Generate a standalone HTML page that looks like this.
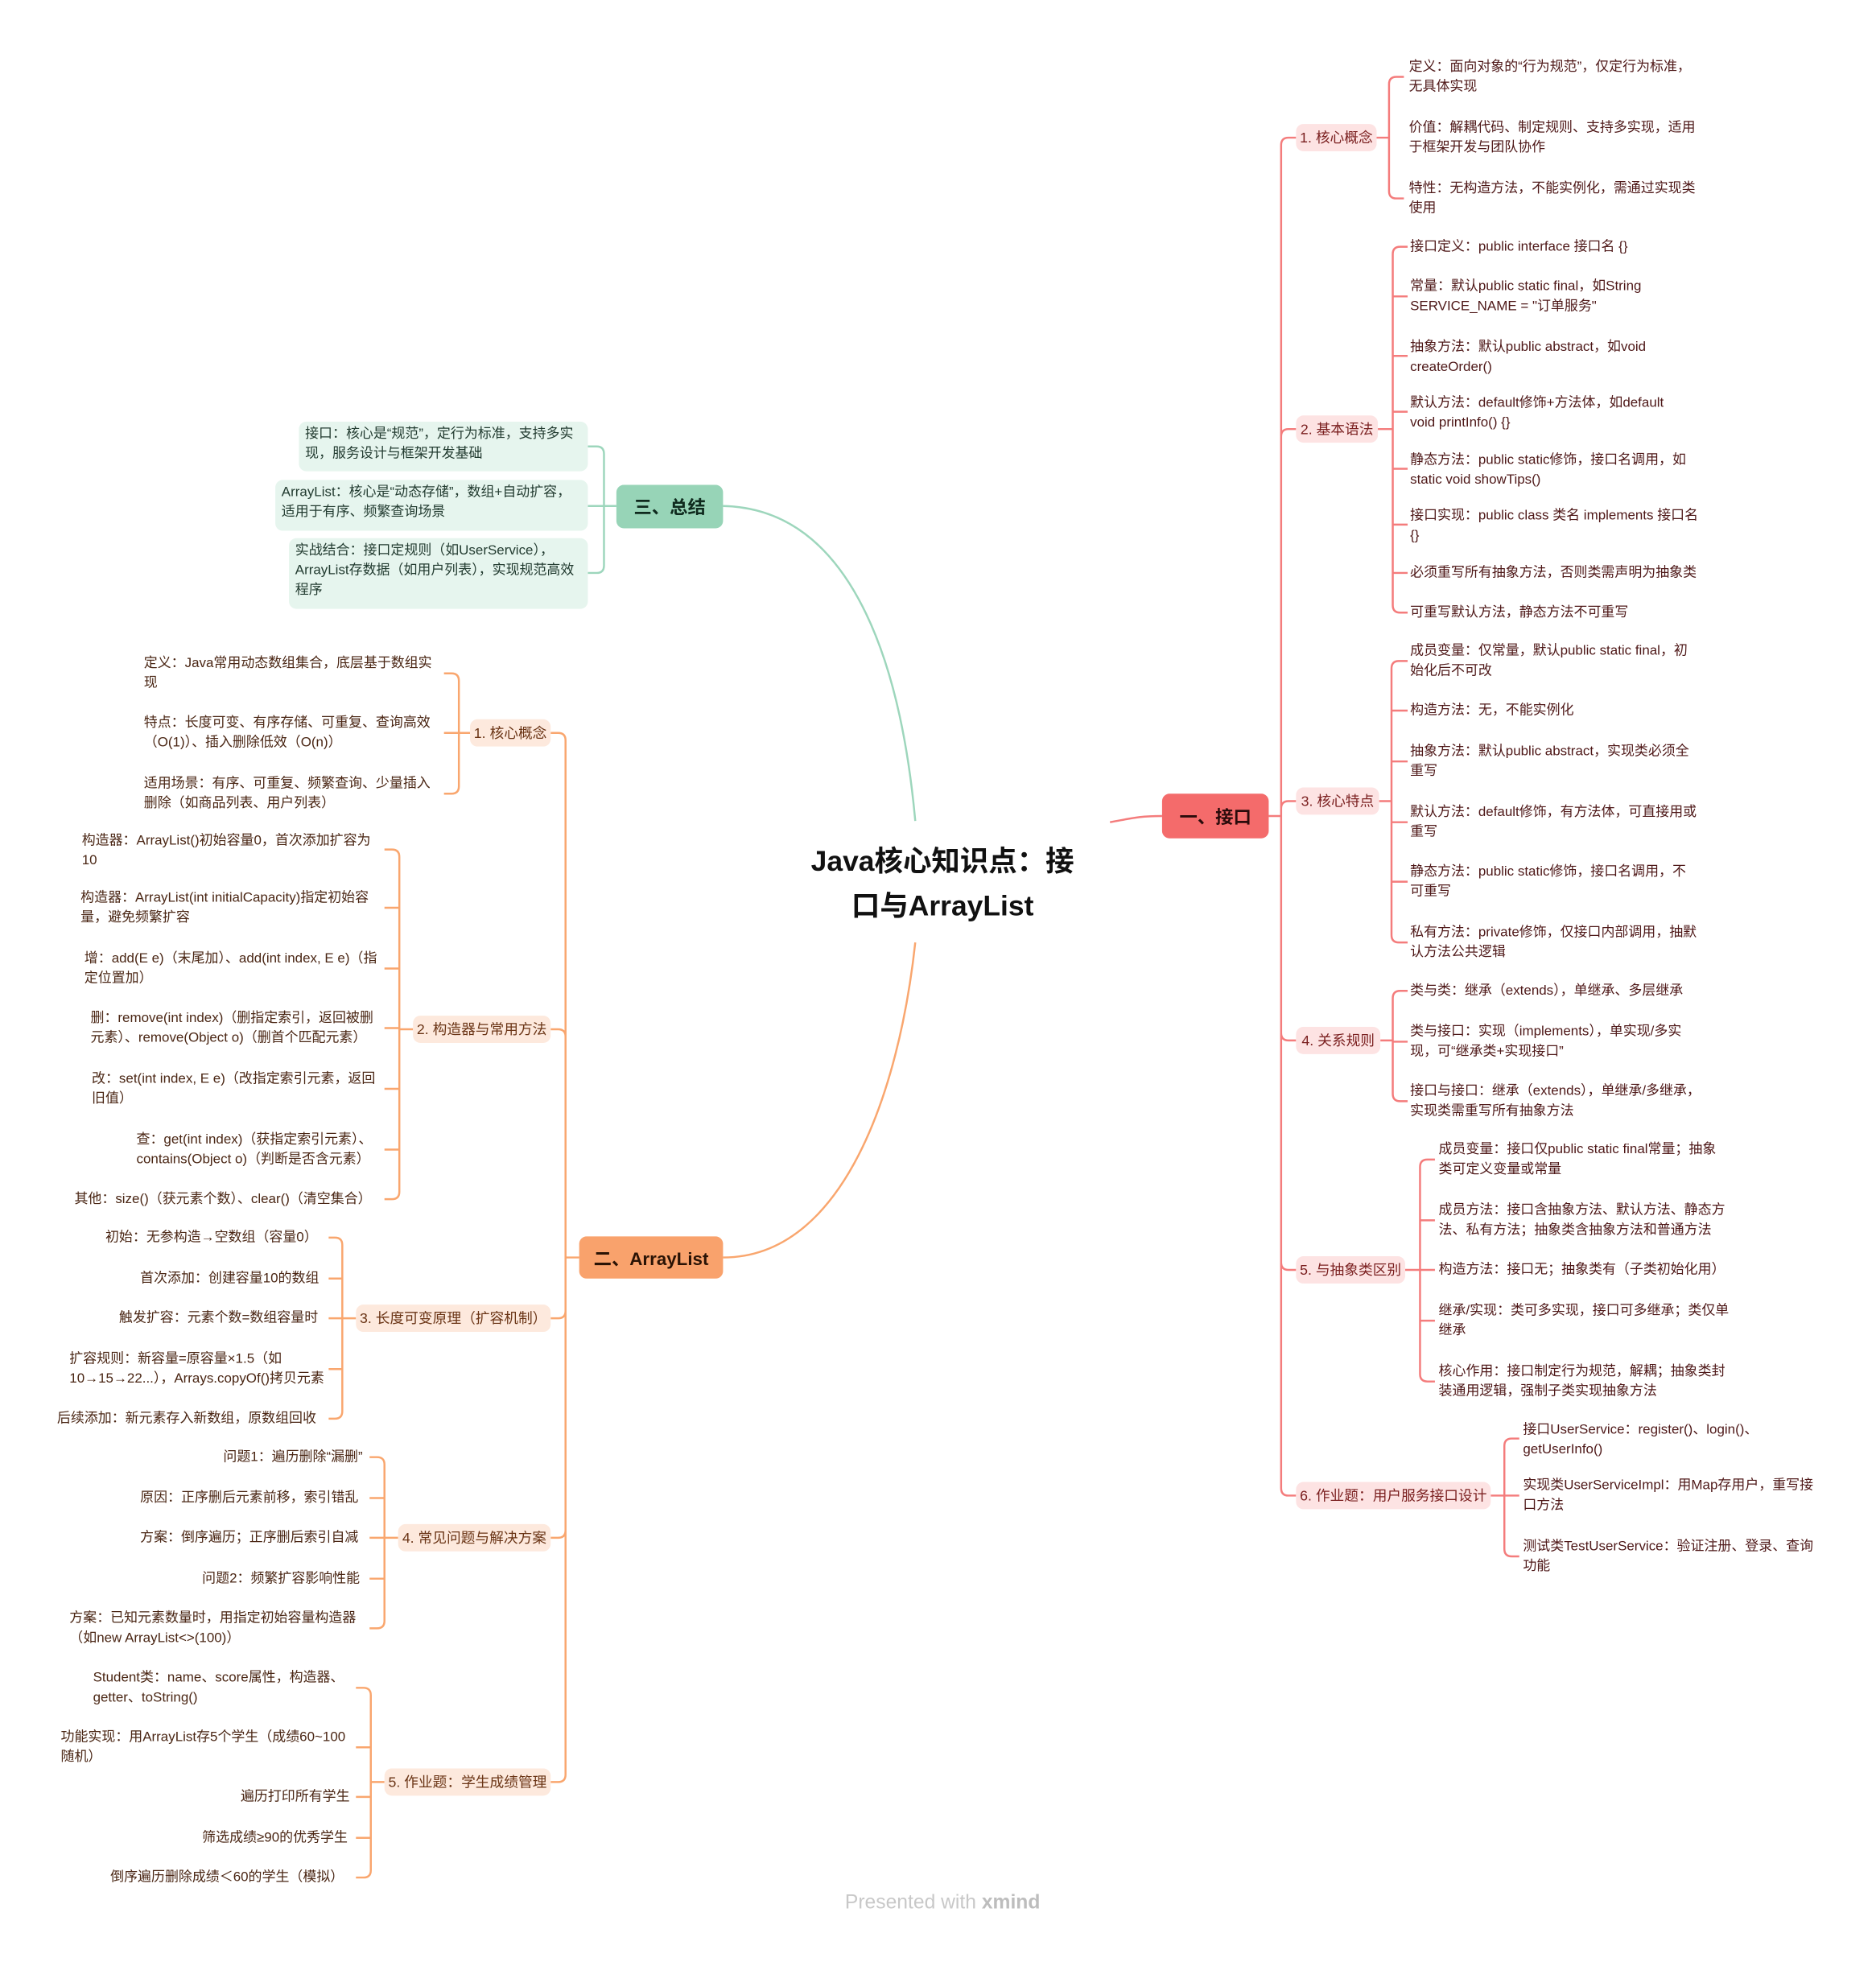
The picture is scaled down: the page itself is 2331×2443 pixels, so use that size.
<!DOCTYPE html>
<html><head><meta charset="utf-8"><style>
html,body{margin:0;padding:0;background:#fff;}
body{width:2331px;height:2415px;overflow:hidden;position:relative;}
#w{position:absolute;left:0;top:0;width:1530px;height:1585px;transform:scale(1.541);transform-origin:0 0;font-family:"Liberation Sans","Noto Sans CJK SC",sans-serif;}
.t{position:absolute;font-size:11px;line-height:16px;white-space:nowrap;}
.r{color:#4e1818;}
.o{color:#4a2614;}
.box{position:absolute;border-radius:6px;font-size:11.5px;display:flex;align-items:center;justify-content:center;white-space:nowrap;}
.pb{background:#fde3e3;color:#7a1f1f;}
.ob{background:#fde9dd;color:#6a3415;}
.gl{position:absolute;background:#e6f5ee;border-radius:6px;font-size:11px;line-height:16px;color:#223b30;padding:2px 5px;box-sizing:border-box;white-space:nowrap;}
svg{position:absolute;left:0;top:0;}
</style></head><body><div id="w">
<svg width="1530" height="1585" fill="none" stroke-width="1.6">
<g stroke="#f47c7c">
<path d="M895 663 C912 660 918 658 937 658"/>
<path d="M1023 658 H1033 M1033 658 V117 Q1033 111 1039 111 H1045 M1033 658 V352 Q1033 346 1039 346 H1045 M1033 658 V652 Q1033 646 1039 646 H1045 M1033 658 V833 Q1033 839 1039 839 H1045 M1033 658 V1018 Q1033 1024 1039 1024 H1045 M1033 658 V1200 Q1033 1206 1039 1206 H1045"/>
<path d="M1110 111 H1120 M1120 111 V68 Q1120 62 1126 62 H1132 M1120 111 V154 Q1120 160 1126 160 H1132"/>
<path d="M1111 346 H1123 M1123 346 V205 Q1123 199 1129 199 H1135 M1123 239 Q1123 239 1135 239 M1123 287 H1135 M1123 332 H1135 M1123 378 H1135 M1123 423 H1135 M1123 462 H1135 M1123 346 V488 Q1123 494 1129 494 H1135"/>
<path d="M1112 646 H1122 M1122 646 V539 Q1122 533 1128 533 H1135 M1122 573 H1135 M1122 614 H1135 M1122 663 H1135 M1122 711 H1135 M1122 646 V754 Q1122 760 1128 760 H1135"/>
<path d="M1113 839 H1123 M1123 839 V805 Q1123 799 1129 799 H1135 M1123 840 H1135 M1123 839 V882 Q1123 888 1129 888 H1135"/>
<path d="M1133 1024 H1145 M1145 1024 V941 Q1145 935 1151 935 H1157 M1145 984 H1157 M1145 1024 H1157 M1145 1065 H1157 M1145 1024 V1108 Q1145 1114 1151 1114 H1157"/>
<path d="M1202 1206 H1213 M1213 1206 V1166 Q1213 1160 1219 1160 H1225 M1213 1206 H1225 M1213 1206 V1249 Q1213 1255 1219 1255 H1225"/>
</g>
<g stroke="#f9a66e">
<path d="M738 760 C725 880 680 1014 583 1014"/>
<path d="M467 1014 H456 M456 1014 V597 Q456 591 450 591 H444 M456 1014 V836 Q456 830 450 830 H444 M456 1014 V1057 Q456 1063 450 1063 H444 M456 1014 V1234 Q456 1240 450 1240 H444 M456 1014 V1431 Q456 1437 450 1437 H444"/>
<path d="M379 591 H370 M370 591 V549 Q370 543 364 543 H358 M370 591 H358 M370 591 V634 Q370 640 364 640 H358"/>
<path d="M333 830 H322 M322 830 V691 Q322 685 316 685 H310 M322 732 H310 M322 781 H310 M322 829 H310 M322 878 H310 M322 927 H310 M322 830 V961 Q322 967 316 967 H310"/>
<path d="M287 1063 H276 M276 1063 V1004 Q276 998 270 998 H265 M276 1031 H265 M276 1063 H265 M276 1104 H265 M276 1063 V1138 Q276 1144 270 1144 H265"/>
<path d="M321 1240 H310 M310 1240 V1181 Q310 1175 304 1175 H298 M310 1208 H298 M310 1240 H298 M310 1273 H298 M310 1240 V1307 Q310 1313 304 1313 H298"/>
<path d="M310 1437 H299 M299 1437 V1367 Q299 1361 293 1361 H287 M299 1409 H287 M299 1449 H287 M299 1482 H287 M299 1437 V1508 Q299 1514 293 1514 H287"/>
</g>
<g stroke="#9dd6bc">
<path d="M583 408 C680 410 725 520 738 662"/>
<path d="M497 408 H487 M487 408 V366 Q487 360 481 360 H474 M487 408 H474 M487 408 V456 Q487 462 481 462 H474"/>
</g>
</svg>

<div style="position:absolute;left:620px;top:676px;width:280px;text-align:center;font-size:23px;line-height:36px;font-weight:bold;color:#111;">Java核心知识点：接<br>口与ArrayList</div>

<div class="box" style="left:937px;top:640px;width:86px;height:36px;background:#f46b6b;color:#2a0b0b;font-size:14.5px;font-weight:bold;">一、接口</div>
<div class="box" style="left:467px;top:997px;width:116px;height:34px;background:#f9a26c;color:#2a1305;font-size:14.5px;font-weight:bold;">二、ArrayList</div>
<div class="box" style="left:497px;top:391px;width:86px;height:35px;background:#97d4b7;color:#0f2a1e;font-size:14.5px;font-weight:bold;">三、总结</div>

<div class="box pb" style="left:1045px;top:100px;width:65px;height:22px;">1. 核心概念</div>
<div class="box pb" style="left:1045px;top:335px;width:66px;height:22px;">2. 基本语法</div>
<div class="box pb" style="left:1045px;top:635px;width:67px;height:22px;">3. 核心特点</div>
<div class="box pb" style="left:1045px;top:828px;width:68px;height:22px;">4. 关系规则</div>
<div class="box pb" style="left:1045px;top:1013px;width:88px;height:22px;">5. 与抽象类区别</div>
<div class="box pb" style="left:1045px;top:1195px;width:157px;height:22px;">6. 作业题：用户服务接口设计</div>

<div class="t r" style="left:1136px;top:46px;">定义：面向对象的“行为规范”，仅定行为标准，<br>无具体实现</div>
<div class="t r" style="left:1136px;top:95px;">价值：解耦代码、制定规则、支持多实现，适用<br>于框架开发与团队协作</div>
<div class="t r" style="left:1136px;top:144px;">特性：无构造方法，不能实例化，需通过实现类<br>使用</div>

<div class="t r" style="left:1137px;top:191px;">接口定义：public interface 接口名 {}</div>
<div class="t r" style="left:1137px;top:223px;">常量：默认public static final，如String<br>SERVICE_NAME = "订单服务"</div>
<div class="t r" style="left:1137px;top:272px;">抽象方法：默认public abstract，如void<br>createOrder()</div>
<div class="t r" style="left:1137px;top:317px;">默认方法：default修饰+方法体，如default<br>void printInfo() {}</div>
<div class="t r" style="left:1137px;top:363px;">静态方法：public static修饰，接口名调用，如<br>static void showTips()</div>
<div class="t r" style="left:1137px;top:408px;">接口实现：public class 类名 implements 接口名<br>{}</div>
<div class="t r" style="left:1137px;top:454px;">必须重写所有抽象方法，否则类需声明为抽象类</div>
<div class="t r" style="left:1137px;top:486px;">可重写默认方法，静态方法不可重写</div>

<div class="t r" style="left:1137px;top:517px;">成员变量：仅常量，默认public static final，初<br>始化后不可改</div>
<div class="t r" style="left:1137px;top:565px;">构造方法：无，不能实例化</div>
<div class="t r" style="left:1137px;top:598px;">抽象方法：默认public abstract，实现类必须全<br>重写</div>
<div class="t r" style="left:1137px;top:647px;">默认方法：default修饰，有方法体，可直接用或<br>重写</div>
<div class="t r" style="left:1137px;top:695px;">静态方法：public static修饰，接口名调用，不<br>可重写</div>
<div class="t r" style="left:1137px;top:744px;">私有方法：private修饰，仅接口内部调用，抽默<br>认方法公共逻辑</div>

<div class="t r" style="left:1137px;top:791px;">类与类：继承（extends），单继承、多层继承</div>
<div class="t r" style="left:1137px;top:824px;">类与接口：实现（implements），单实现/多实<br>现，可“继承类+实现接口”</div>
<div class="t r" style="left:1137px;top:872px;">接口与接口：继承（extends），单继承/多继承，<br>实现类需重写所有抽象方法</div>

<div class="t r" style="left:1160px;top:919px;">成员变量：接口仅public static final常量；抽象<br>类可定义变量或常量</div>
<div class="t r" style="left:1160px;top:968px;">成员方法：接口含抽象方法、默认方法、静态方<br>法、私有方法；抽象类含抽象方法和普通方法</div>
<div class="t r" style="left:1160px;top:1016px;">构造方法：接口无；抽象类有（子类初始化用）</div>
<div class="t r" style="left:1160px;top:1049px;">继承/实现：类可多实现，接口可多继承；类仅单<br>继承</div>
<div class="t r" style="left:1160px;top:1098px;">核心作用：接口制定行为规范，解耦；抽象类封<br>装通用逻辑，强制子类实现抽象方法</div>

<div class="t r" style="left:1228px;top:1145px;">接口UserService：register()、login()、<br>getUserInfo()</div>
<div class="t r" style="left:1228px;top:1190px;">实现类UserServiceImpl：用Map存用户，重写接<br>口方法</div>
<div class="t r" style="left:1228px;top:1239px;">测试类TestUserService：验证注册、登录、查询<br>功能</div>

<div class="box ob" style="left:379px;top:580px;width:65px;height:22px;">1. 核心概念</div>
<div class="box ob" style="left:333px;top:819px;width:111px;height:22px;">2. 构造器与常用方法</div>
<div class="box ob" style="left:287px;top:1052px;width:157px;height:22px;">3. 长度可变原理（扩容机制）</div>
<div class="box ob" style="left:321px;top:1229px;width:123px;height:22px;">4. 常见问题与解决方案</div>
<div class="box ob" style="left:310px;top:1426px;width:134px;height:22px;">5. 作业题：学生成绩管理</div>

<div class="t o" style="left:116px;top:527px;">定义：Java常用动态数组集合，底层基于数组实<br>现</div>
<div class="t o" style="left:116px;top:575px;">特点：长度可变、有序存储、可重复、查询高效<br>（O(1)）、插入删除低效（O(n)）</div>
<div class="t o" style="left:116px;top:624px;">适用场景：有序、可重复、频繁查询、少量插入<br>删除（如商品列表、用户列表）</div>

<div class="t o" style="left:66px;top:670px;">构造器：ArrayList()初始容量0，首次添加扩容为<br>10</div>
<div class="t o" style="left:65px;top:716px;">构造器：ArrayList(int initialCapacity)指定初始容<br>量，避免频繁扩容</div>
<div class="t o" style="left:68px;top:765px;">增：add(E e)（末尾加）、add(int index, E e)（指<br>定位置加）</div>
<div class="t o" style="left:73px;top:813px;">删：remove(int index)（删指定索引，返回被删<br>元素）、remove(Object o)（删首个匹配元素）</div>
<div class="t o" style="left:74px;top:862px;">改：set(int index, E e)（改指定索引元素，返回<br>旧值）</div>
<div class="t o" style="left:110px;top:911px;">查：get(int index)（获指定索引元素）、<br>contains(Object o)（判断是否含元素）</div>
<div class="t o" style="left:60px;top:959px;">其他：size()（获元素个数）、clear()（清空集合）</div>

<div class="t o" style="left:85px;top:990px;">初始：无参构造→空数组（容量0）</div>
<div class="t o" style="left:113px;top:1023px;">首次添加：创建容量10的数组</div>
<div class="t o" style="left:96px;top:1055px;">触发扩容：元素个数=数组容量时</div>
<div class="t o" style="left:56px;top:1088px;">扩容规则：新容量=原容量×1.5（如<br>10→15→22...），Arrays.copyOf()拷贝元素</div>
<div class="t o" style="left:46px;top:1136px;">后续添加：新元素存入新数组，原数组回收</div>

<div class="t o" style="left:180px;top:1167px;">问题1：遍历删除“漏删”</div>
<div class="t o" style="left:113px;top:1200px;">原因：正序删后元素前移，索引错乱</div>
<div class="t o" style="left:113px;top:1232px;">方案：倒序遍历；正序删后索引自减</div>
<div class="t o" style="left:163px;top:1265px;">问题2：频繁扩容影响性能</div>
<div class="t o" style="left:56px;top:1297px;">方案：已知元素数量时，用指定初始容量构造器<br>（如new ArrayList&lt;&gt;(100)）</div>

<div class="t o" style="left:75px;top:1345px;">Student类：name、score属性，构造器、<br>getter、toString()</div>
<div class="t o" style="left:49px;top:1393px;">功能实现：用ArrayList存5个学生（成绩60~100<br>随机）</div>
<div class="t o" style="left:194px;top:1441px;">遍历打印所有学生</div>
<div class="t o" style="left:163px;top:1474px;">筛选成绩≥90的优秀学生</div>
<div class="t o" style="left:89px;top:1506px;">倒序遍历删除成绩＜60的学生（模拟）</div>

<div class="gl" style="left:241px;top:340px;width:233px;height:40px;">接口：核心是“规范”，定行为标准，支持多实<br>现，服务设计与框架开发基础</div>
<div class="gl" style="left:222px;top:387px;width:252px;height:41px;">ArrayList：核心是“动态存储”，数组+自动扩容，<br>适用于有序、频繁查询场景</div>
<div class="gl" style="left:233px;top:434px;width:241px;height:57px;">实战结合：接口定规则（如UserService），<br>ArrayList存数据（如用户列表），实现规范高效<br>程序</div>

<div style="position:absolute;left:600px;top:1526px;width:320px;text-align:center;font-size:16px;color:#c8c8c8;">Presented with <b style="color:#bdbdbd;">xmind</b></div>
</div></body></html>
